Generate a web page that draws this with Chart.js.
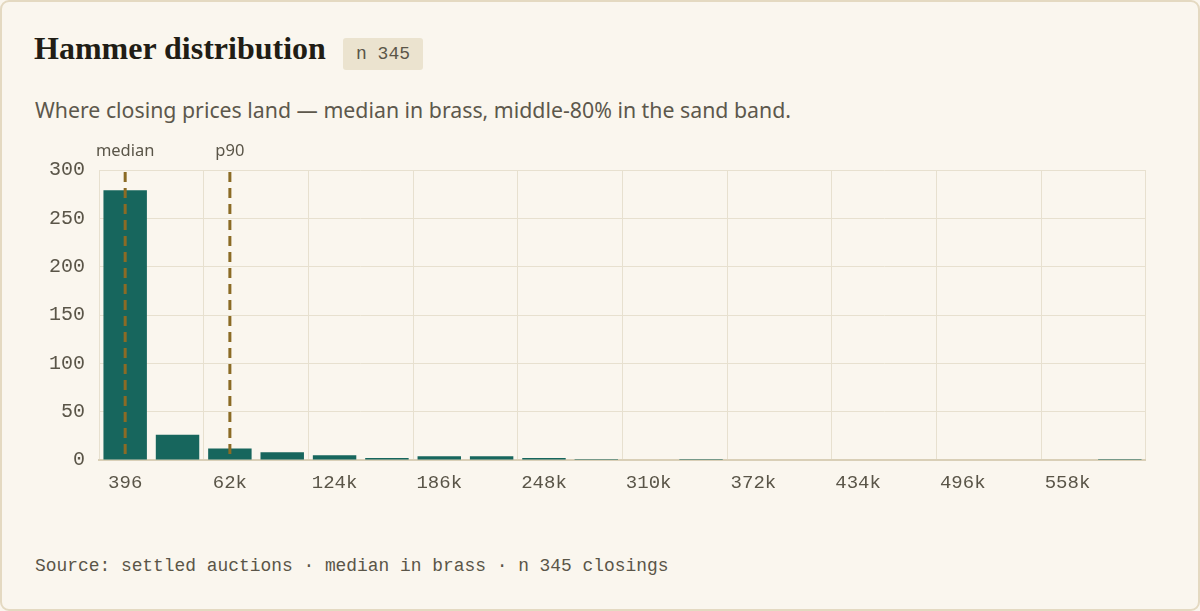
<!DOCTYPE html>
<html>
<head>
<meta charset="utf-8">
<script src="https://cdn.jsdelivr.net/npm/chart.js@4.4.1/dist/chart.umd.min.js"></script>
<style>
  html, body { margin: 0; padding: 0; background: #faf6ee; }
  body { width: 1200px; height: 611px; overflow: hidden; position: relative; }
  .card {
    position: absolute; left: 0; top: 0; width: 1196px; height: 607px;
    border: 2px solid #e4d9c1; border-radius: 9px; background: #faf6ee;
  }
  h1 {
    position: absolute; left: 34px; top: 30px; margin: 0;
    font: bold 32px "Liberation Serif", "DejaVu Serif", serif; color: #211d15;
    line-height: 37px;
  }
  .badge {
    position: absolute; left: 343px; top: 38px; width: 80px; height: 32px;
    background: #ebe3cf; border-radius: 3px;
    font: 18px "Liberation Mono", "DejaVu Sans Mono", monospace; color: #5a5548;
    line-height: 32px; text-align: center;
  }
  .sub {
    position: absolute; left: 35px; top: 95px; margin: 0;
    font: 21.3px "Noto Sans", "Open Sans", sans-serif; color: #5d584c;
  }
  .foot {
    position: absolute; left: 35px; top: 556px; margin: 0;
    font: 17.9px "Liberation Mono", "DejaVu Sans Mono", monospace; color: #5a5548;
  }
  #wrap { position: absolute; left: 30px; top: 130px; width: 1116px; height: 370px; }
</style>
</head>
<body>
<div class="card"></div>
<h1>Hammer distribution</h1>
<div class="badge">n 345</div>
<p class="sub">Where closing prices land — median in brass, middle-80% in the sand band.</p>
<div id="wrap"><canvas id="chart"></canvas></div>
<p class="foot">Source: settled auctions · median in brass · n 345 closings</p>
<script>
// bins start at 396, roughly 31k wide
const binLabels = ['396', '31k', '62k', '93k', '124k', '155k', '186k', '217k', '248k', '279k',
  '310k', '341k', '372k', '403k', '434k', '465k', '496k', '527k', '558k', '589k'];
const counts = [279, 26, 12, 8, 5, 2, 4, 4, 2, 1, 0, 1, 0, 0, 0, 0, 0, 0, 0, 1];
const yTicks = [0, 50, 100, 150, 200, 250, 300];
const markers = [
  { name: 'median', bin: 0 },
  { name: 'p90', bin: 2 }
];

const gridCol = '#e7e0cf';
const tickCol = '#5a5548';
const brass = '#8b6b25';

const markerLines = {
  id: 'markerLines',
  afterDatasetsDraw(chart) {
    const { ctx, chartArea, scales } = chart;
    ctx.save();
    markers.forEach(m => {
      const x = scales.x.getPixelForValue(m.bin);
      ctx.strokeStyle = brass;
      ctx.lineWidth = 3;
      ctx.setLineDash([10, 6]);
      ctx.beginPath();
      ctx.moveTo(x, chartArea.top + 2);
      ctx.lineTo(x, chartArea.bottom);
      ctx.stroke();
      ctx.setLineDash([]);
      ctx.fillStyle = tickCol;
      ctx.font = '16.5px "Noto Sans", "Open Sans", sans-serif';
      ctx.textAlign = 'center';
      ctx.textBaseline = 'alphabetic';
      ctx.fillText(m.name, x, chartArea.top - 14);
    });
    ctx.restore();
  }
};

new Chart(document.getElementById('chart'), {
  type: 'bar',
  data: {
    labels: binLabels,
    datasets: [{
      data: counts,
      backgroundColor: '#17665d',
      barPercentage: 0.83,
      categoryPercentage: 1
    }]
  },
  options: {
    responsive: true,
    maintainAspectRatio: false,
    animation: false,
    layout: { padding: { top: 40, right: 0, left: 0, bottom: 0 } },
    plugins: { legend: { display: false }, tooltip: { enabled: false }, title: { display: false } },
    scales: {
      x: {
        grid: {
          color: c => (c.index % 2 ? 'transparent' : gridCol),
          drawTicks: false,
          offset: true
        },
        border: { color: '#d9cfb7', width: 2 },
        ticks: {
          autoSkip: false,
          maxRotation: 0,
          padding: 12,
          color: tickCol,
          font: { family: '"Liberation Mono", "DejaVu Sans Mono", monospace', size: 19 },
          callback: (v, i) => (i % 2 ? '' : binLabels[i])
        },
        afterFit: s => { s.height = 40; }
      },
      y: {
        min: 0,
        max: 300,
        afterBuildTicks: s => { s.ticks = yTicks.map(v => ({ value: v })); },
        grid: { color: gridCol, drawTicks: false },
        border: { display: false },
        ticks: {
          padding: 14,
          color: tickCol,
          font: { family: '"Liberation Mono", "DejaVu Sans Mono", monospace', size: 20 }
        },
        afterFit: s => { s.width = 69; }
      }
    }
  },
  plugins: [markerLines]
});
</script>
</body>
</html>
